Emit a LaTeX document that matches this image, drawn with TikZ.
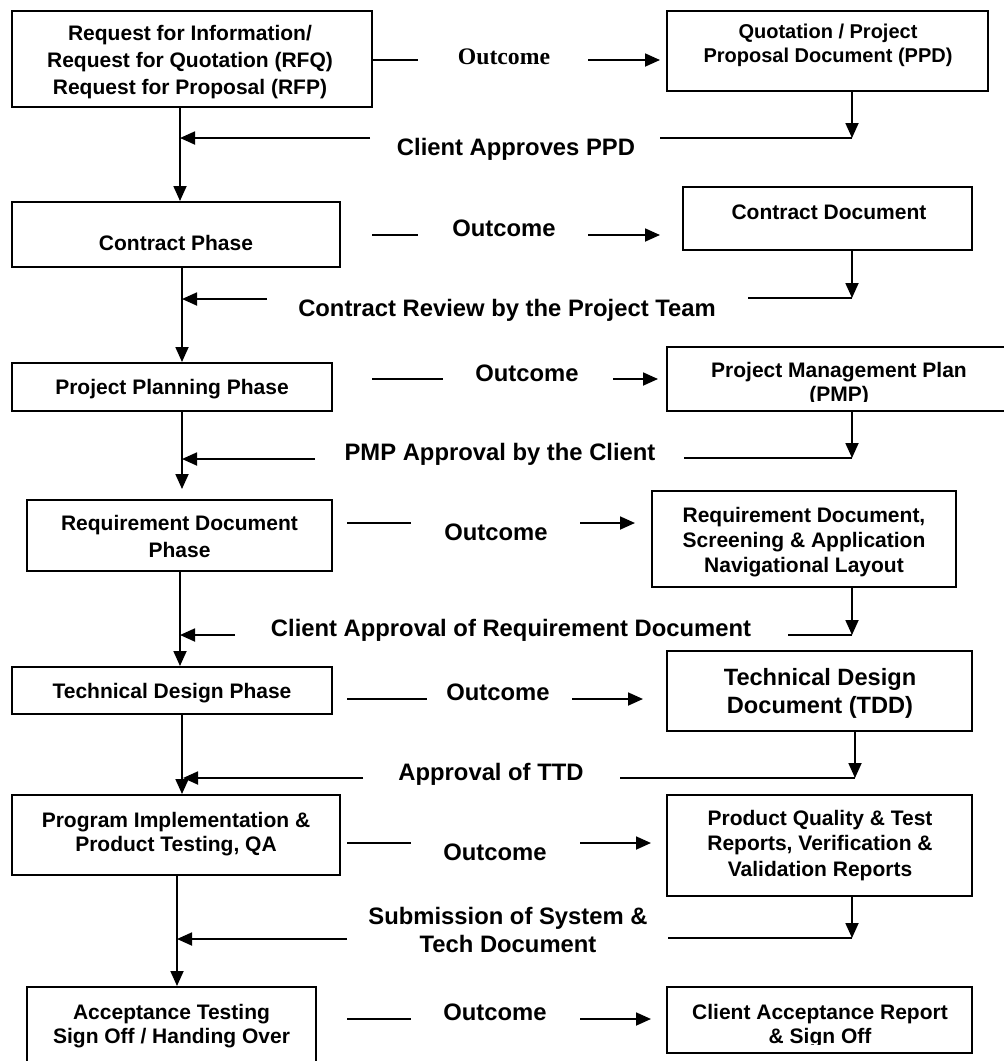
\documentclass[tikz,border=0pt]{standalone}
\usepackage{fontspec}
\setmainfont{Liberation Sans}
\newfontfamily\timesb{Liberation Serif}
\usetikzlibrary{arrows.meta}
\begin{document}
\begin{tikzpicture}[x=1pt,y=-1pt,
  box/.style={draw, line width=2pt, inner sep=0pt, anchor=center},
  btxt/.style={font=\fontsize{21}{25.5}\selectfont\bfseries, align=center, inner sep=0pt},
  lbl/.style={font=\fontsize{23.8}{28}\selectfont\bfseries, align=center, inner sep=0pt},
  ln/.style={line width=1.8pt},
  arr/.style={line width=1.8pt, -{Triangle[length=15pt,width=13pt]}},
]
\useasboundingbox (0,0) rectangle (1004,1061);
\fill[white] (0,0) rectangle (1004,1061);
\clip (0,0) rectangle (1004,1061);

% ---------- left boxes ----------
\node[box, minimum width=360pt, minimum height=96pt] (b1) at (192,59) {};
\node[box, minimum width=328pt, minimum height=65pt] (b2) at (176,234.5) {};
\node[box, minimum width=320pt, minimum height=48pt] (b3) at (172,387) {};
\node[box, minimum width=305pt, minimum height=71pt] (b4) at (179.5,535.5) {};
\node[box, minimum width=320pt, minimum height=47pt] (b5) at (172,690.5) {};
\node[box, minimum width=328pt, minimum height=80pt] (b6) at (176,835) {};
\node[box, minimum width=289pt, minimum height=79pt] (b7) at (171.5,1026.5) {};

\node[btxt, font=\fontsize{21}{27}\selectfont\bfseries] (t1) at (190,62) {Request for Information/\\Request for Quotation (RFQ)\\Request for Proposal (RFP)};
\node[btxt] (t2) at (176,243) {Contract Phase};
\node[btxt] (t3) at (172,389) {Project Planning Phase};
\node[btxt, font=\fontsize{21}{27}\selectfont\bfseries] (t4) at (179.5,536.5) {Requirement Document\\Phase};
\node[btxt] (t5) at (172,693) {Technical Design Phase};
\node[btxt, font=\fontsize{21}{24}\selectfont\bfseries] (t6) at (176,834) {Program Implementation \&\\Product Testing, QA};
\node[btxt, font=\fontsize{21}{24}\selectfont\bfseries] (t7) at (171.5,1026) {Acceptance Testing\\Sign Off / Handing Over};

% ---------- right boxes ----------
\node[box, minimum width=321pt, minimum height=80pt] (r1) at (827.5,51) {};
\node[box, minimum width=289pt, minimum height=63pt] (r2) at (827.5,218.5) {};
\node[box, minimum width=343pt, minimum height=64pt] (r3) at (838.5,379) {};
\node[box, minimum width=304pt, minimum height=96pt] (r4) at (804,539) {};
\node[box, minimum width=305pt, minimum height=80pt] (r5) at (819.5,691) {};
\node[box, minimum width=305pt, minimum height=101pt] (r6) at (819.5,845.5) {};
\node[box, minimum width=305pt, minimum height=66pt] (r7) at (819.5,1020) {};

\node[btxt, font=\fontsize{20}{23.5}\selectfont\bfseries] (u1) at (828,45.5) {Quotation / Project\\Proposal Document (PPD)};
\node[btxt] (u2) at (829,212) {Contract Document};
\begin{scope}
  \clip (660,340) rectangle (1004,401);
  \node[btxt, font=\fontsize{21}{24}\selectfont\bfseries] (u3) at (839,384) {Project Management Plan\\(PMP)};
\end{scope}
\node[btxt, font=\fontsize{21}{25}\selectfont\bfseries] (u4) at (804,542) {Requirement Document,\\Screening \& Application\\Navigational Layout};
\node[btxt, font=\fontsize{23.6}{28}\selectfont\bfseries] (u5) at (820,693.5) {Technical Design\\Document (TDD)};
\node[btxt, font=\fontsize{21}{25.5}\selectfont\bfseries] (u6) at (820,845.5) {Product Quality \& Test\\Reports, Verification \&\\Validation Reports};
\begin{scope}
  \clip (660,980) rectangle (980,1044);
  \node[btxt, font=\fontsize{21}{24}\selectfont\bfseries] (u7) at (820,1026) {Client Acceptance Report\\\& Sign Off};
\end{scope}

% ---------- main flow ----------
\draw[arr] ([xshift=-12pt]b1.south) -- ([xshift=4pt]b2.north);
\draw[arr] ([xshift=6pt]b2.south) -- ([xshift=10pt]b3.north);
\draw[arr] ([xshift=10pt]b3.south) -- ([xshift=2.5pt,yshift=10pt]b4.north);
\draw[arr] ([xshift=0.5pt]b4.south) -- ([xshift=8pt]b5.north);
\draw[arr] ([xshift=10pt]b5.south) -- ([xshift=6pt]b6.north);
\draw[arr] ([xshift=1pt]b6.south) -- ([xshift=5.5pt]b7.north);

% ---------- outcome rows ----------
\node[font=\fontsize{23.7}{28}\selectfont\bfseries\timesb, inner sep=0pt] (o1) at (504,57) {Outcome};
\node[lbl] (o2) at (504,228) {Outcome};
\node[lbl] (o3) at (527,373) {Outcome};
\node[lbl] (o4) at (496,532) {Outcome};
\node[lbl] (o5) at (498,692) {Outcome};
\node[lbl] (o6) at (495,852) {Outcome};
\node[lbl] (o7) at (495,1012) {Outcome};

\coordinate (d1) at (418,60);   \coordinate (a1s) at (588,60);   \coordinate (a1e) at (660,60);
\coordinate (d2s) at (372,235); \coordinate (d2) at (418,235);  \coordinate (a2s) at (588,235);  \coordinate (a2e) at (660,235);
\coordinate (d3s) at (372,379); \coordinate (d3) at (443,379);  \coordinate (a3s) at (613,379);  \coordinate (a3e) at (658,379);
\coordinate (d4s) at (347,523); \coordinate (d4) at (411,523);  \coordinate (a4s) at (580,523);  \coordinate (a4e) at (635,523);
\coordinate (d5s) at (347,699); \coordinate (d5) at (427,699);  \coordinate (a5s) at (572,699);  \coordinate (a5e) at (643,699);
\coordinate (d6s) at (347,843); \coordinate (d6) at (411,843);  \coordinate (a6s) at (580,843);  \coordinate (a6e) at (651,843);
\coordinate (d7s) at (347,1019);\coordinate (d7) at (411,1019); \coordinate (a7s) at (580,1019); \coordinate (a7e) at (651,1019);

\draw[ln] (b1.east |- d1) -- (d1);
\draw[arr] (a1s) -- (a1e);
\draw[ln] (d2s) -- (d2);  \draw[arr] (a2s) -- (a2e);
\draw[ln] (d3s) -- (d3);  \draw[arr] (a3s) -- (a3e);
\draw[ln] (d4s) -- (d4);  \draw[arr] (a4s) -- (a4e);
\draw[ln] (d5s) -- (d5);  \draw[arr] (a5s) -- (a5e);
\draw[ln] (d6s) -- (d6);  \draw[arr] (a6s) -- (a6e);
\draw[ln] (d7s) -- (d7);  \draw[arr] (a7s) -- (a7e);

% ---------- return rows ----------
\node[lbl] (l1) at (516,149.5) {Client Approves PPD};
\node[lbl] (l2) at (507,310.5) {Contract Review by the Project Team};
\node[lbl] (l3) at (500,454.5) {PMP Approval by the Client};
\node[lbl] (l4) at (511,630.5) {Client Approval of Requirement Document};
\node[lbl] (l5) at (491,774.5) {Approval of TTD};
\node[lbl] (l6) at (508,930) {Submission of System \&\\Tech Document};

\coordinate (m1) at (180,138); \coordinate (s1) at (370,138); \coordinate (e1) at (852,138); \coordinate (f1) at (660,138);
\coordinate (m2) at (182,299); \coordinate (s2) at (267,299); \coordinate (e2) at (852,298); \coordinate (f2) at (748,298);
\coordinate (m3) at (182,459); \coordinate (s3) at (315,459); \coordinate (e3) at (852,458); \coordinate (f3) at (684,458);
\coordinate (m4) at (180,635); \coordinate (s4) at (235,635); \coordinate (e4) at (852,635); \coordinate (f4) at (788,635);
\coordinate (m5) at (183,778); \coordinate (s5) at (363,778); \coordinate (e5) at (855,778); \coordinate (f5) at (620,778);
\coordinate (m6) at (177,939); \coordinate (s6) at (347,939); \coordinate (e6) at (852,938); \coordinate (f6) at (668,938);

\draw[arr] (s1) -- (m1); \draw[arr] ([xshift=24.5pt]r1.south) -- (e1); \draw[ln] (e1) -- (f1);
\draw[arr] (s2) -- (m2); \draw[arr] ([xshift=24.5pt]r2.south) -- (e2); \draw[ln] (e2) -- (f2);
\draw[arr] (s3) -- (m3); \draw[arr] ([xshift=13.5pt]r3.south) -- (e3); \draw[ln] (e3) -- (f3);
\draw[arr] (s4) -- (m4); \draw[arr] ([xshift=48pt]r4.south) -- (e4); \draw[ln] (e4) -- (f4);
\draw[arr] (s5) -- (m5); \draw[arr] ([xshift=35.5pt]r5.south) -- (e5); \draw[ln] (e5) -- (f5);
\draw[arr] (s6) -- (m6); \draw[arr] ([xshift=32.5pt]r6.south) -- (e6); \draw[ln] (e6) -- (f6);
\end{tikzpicture}
\end{document}
